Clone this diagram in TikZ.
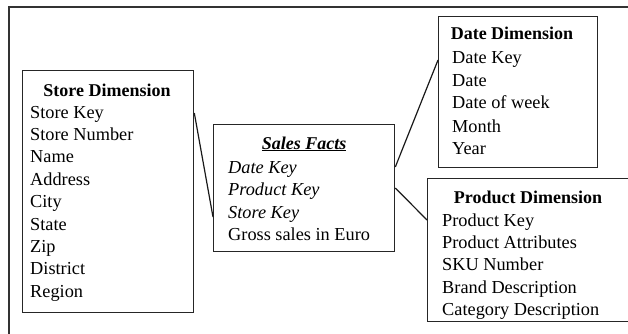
\documentclass[tikz,border=0pt]{standalone}
\usepackage{fontspec}
\setmainfont{Liberation Serif}
\begin{document}
\begin{tikzpicture}[x=1pt,y=-1pt,
  box/.style={draw=black!85,line width=1.3pt,rectangle,inner sep=0,anchor=north west},
  item/.style={anchor=west,inner sep=0,font=\fontsize{18.3}{22}\selectfont,text height=12pt,text depth=4pt},
  ttl/.style={anchor=center,inner sep=0,font=\fontsize{18}{22}\selectfont\bfseries,text height=12pt,text depth=4pt},
  conn/.style={draw=black!90,line width=1.2pt},
  frame/.style={draw=black!80,line width=1.2pt}]
\useasboundingbox (0,0) rectangle (628,334);
\draw[frame] (9,345) -- (9,7) -- (640,7);
% boxes
\node[box,minimum width=171pt,minimum height=242pt] (store) at (22,70) {};
\node[box,minimum width=181pt,minimum height=127pt] (sales) at (213,124) {};
\node[box,minimum width=159pt,minimum height=151pt] (date) at (438,16) {};
\node[box,minimum width=202pt,minimum height=143pt] (product) at (427,178) {};
% store texts
\node[ttl] (st0) at (107,92) {Store Dimension};
\node[item] (st1) at (30,114) {Store Key};
\node[item] (st2) at (30,136) {Store Number};
\node[item] (st3) at (30,158) {Name};
\node[item] (st4) at (30,181) {Address};
\node[item] (st5) at (30,203) {City};
\node[item] (st6) at (30,226) {State};
\node[item] (st7) at (30,248) {Zip};
\node[item] (st8) at (30,270) {District};
\node[item] (st9) at (30,293) {Region};
% sales texts
\node[ttl] (sa0) at (304,145) {\itshape\underline{Sales Facts}};
\node[item] (sa1) at (228,169) {\itshape Date Key};
\node[item] (sa2) at (228,191) {\itshape Product Key};
\node[item] (sa3) at (228,214) {\itshape Store Key};
\node[item] (sa4) at (228,236) {Gross sales in Euro};
% date texts
\node[ttl] (da0) at (512,36) {Date Dimension};
\node[item] (da1) at (452,60) {Date Key};
\node[item] (da2) at (452,83) {Date};
\node[item] (da3) at (452,105) {Date of week};
\node[item] (da4) at (452,128) {Month};
\node[item] (da5) at (452,150) {Year};
% product texts
\node[ttl] (pr0) at (528,199) {Product Dimension};
\node[item] (pr1) at (442,222) {Product Key};
\node[item] (pr2) at (442,244) {Product Attributes};
\node[item] (pr3) at (442,266) {SKU Number};
\node[item] (pr4) at (442,289) {Brand Description};
\node[item] (pr5) at (442,311) {Category Description};
% connectors
\draw[conn] ([yshift=-43pt]store.north east) -- ([yshift=-93pt]sales.north west);
\draw[conn] ([yshift=-43pt]sales.north east) -- ([yshift=-44pt]date.north west);
\draw[conn] ([yshift=-64pt]sales.north east) -- ([yshift=-42pt]product.north west);
\end{tikzpicture}
\end{document}
